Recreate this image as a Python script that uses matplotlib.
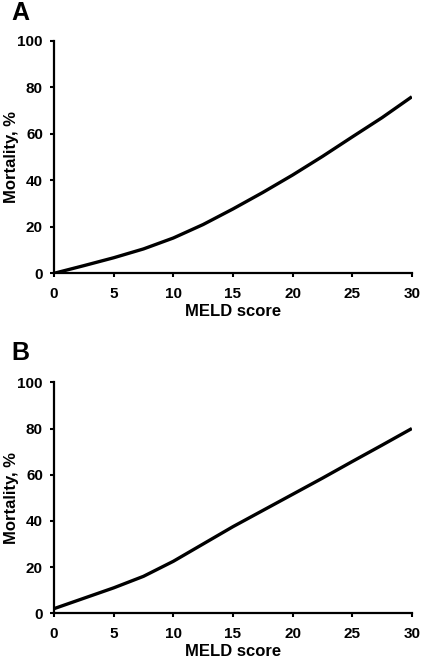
import numpy as np
import matplotlib
matplotlib.use("Agg")
import matplotlib.pyplot as plt

# MELD score vs mortality
meld = [0, 2.5, 5, 7.5, 10, 12.5, 15, 17.5, 20, 22.5, 25, 27.5, 30]
mort_a = [0, 3.3, 6.7, 10.5, 15.2, 21, 27.7, 34.8, 42.3, 50.3, 58.7, 67, 76]
mort_b = [2, 6.5, 11, 16, 22.5, 30, 37.5, 44.5, 51.5, 58.5, 65.7, 72.8, 80]
x_ticks = [0, 5, 10, 15, 20, 25, 30]
y_ticks = [0, 20, 40, 60, 80, 100]

plt.rcParams['font.family'] = ['Liberation Sans', 'DejaVu Sans']
plt.rcParams['font.weight'] = 'bold'

fig = plt.figure(figsize=(4.22, 6.61), dpi=100)
ax_a = fig.add_axes([0.128, 0.5865, 0.848, 0.3515])
ax_b = fig.add_axes([0.128, 0.0722, 0.848, 0.3494])


def style(ax, y):
    ax.plot(meld, y, color="black", lw=2.4, solid_capstyle="butt")
    ax.set_xlim(0, 30)
    ax.set_ylim(0, 100)
    ax.set_xticks(x_ticks)
    ax.set_yticks(y_ticks)
    for s in ("top", "right"):
        ax.spines[s].set_visible(False)
    for s in ("left", "bottom"):
        ax.spines[s].set_linewidth(1.6)
    ax.tick_params(direction="out", length=3, width=1.5, labelsize=11)
    ax.tick_params(axis="x", pad=7)
    ax.tick_params(axis="y", pad=5)
    ax.set_xlabel("MELD score", fontsize=12, fontweight="bold", labelpad=2)
    ax.set_ylabel("Mortality, %", fontsize=12, fontweight="bold")
    ax.yaxis.set_label_coords(-0.098, 0.5)


style(ax_a, mort_a)
style(ax_b, mort_b)

fig.text(0.028, 0.980, "A", fontsize=18, fontweight="bold", va="center")
fig.text(0.028, 0.466, "B", fontsize=18, fontweight="bold", va="center")

fig.savefig("out.png", dpi=100)
